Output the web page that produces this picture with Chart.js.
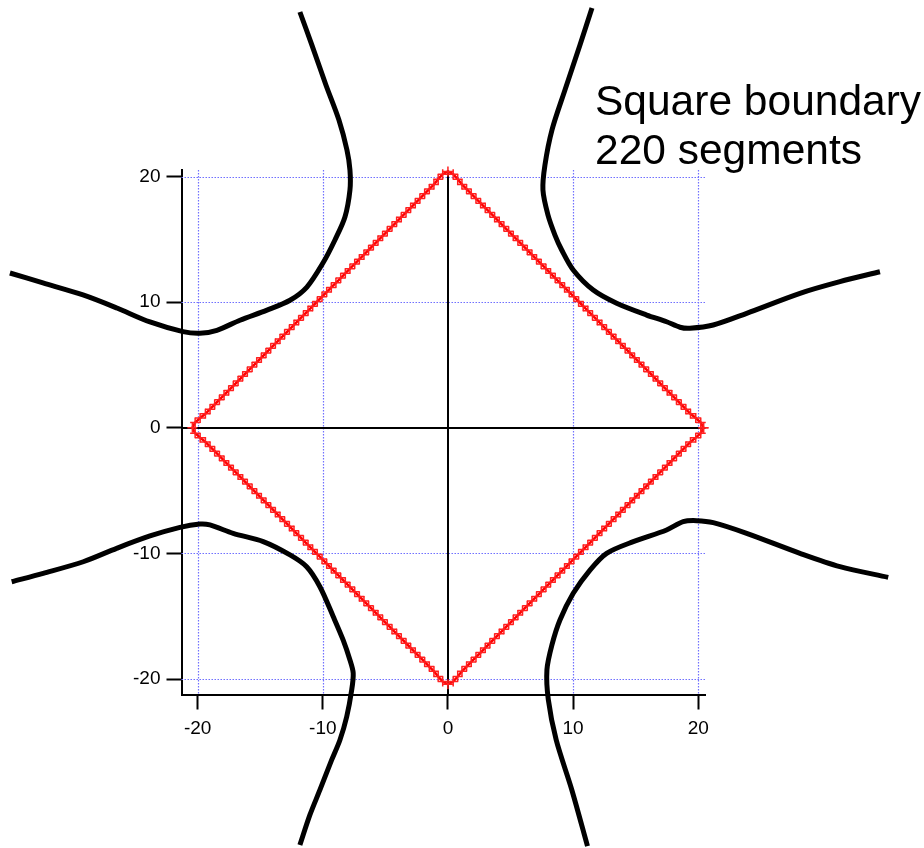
<!DOCTYPE html>
<html>
<head>
<meta charset="utf-8">
<script src="https://cdn.jsdelivr.net/npm/chart.js@4.4.1/dist/chart.umd.min.js"></script>
<style>
  body { margin: 0; background: #fff; }
  canvas { display: block; }
</style>
</head>
<body>
<canvas id="squareChart" width="924" height="848"></canvas>
<script>
// ticks on both axes, dotted grid at the non-zero ones
const tickValues = [-20, -10, 0, 10, 20];
const gridValues = [-20, -10, 10, 20];

// one quarter of the boundary: right corner up to top corner (56 points)
const quarterX = [20.42, 20.20, 19.80, 19.38, 19.01, 18.64, 18.26, 17.89, 17.52, 17.15,
  16.77, 16.40, 16.03, 15.65, 15.28, 14.91, 14.54, 14.16, 13.79, 13.42,
  13.05, 12.67, 12.30, 11.93, 11.55, 11.18, 10.81, 10.44, 10.06, 9.69,
  9.32, 8.95, 8.57, 8.20, 7.83, 7.45, 7.08, 6.71, 6.34, 5.96,
  5.59, 5.22, 4.85, 4.47, 4.10, 3.73, 3.35, 2.98, 2.61, 2.24,
  1.86, 1.49, 1.12, 0.78, 0.42, 0.00];
const quarterY = [0.00, 0.42, 0.78, 1.12, 1.49, 1.86, 2.24, 2.61, 2.98, 3.35,
  3.73, 4.10, 4.47, 4.85, 5.22, 5.59, 5.96, 6.34, 6.71, 7.08,
  7.45, 7.83, 8.20, 8.57, 8.95, 9.32, 9.69, 10.06, 10.44, 10.81,
  11.18, 11.55, 11.93, 12.30, 12.67, 13.05, 13.42, 13.79, 14.16, 14.54,
  14.91, 15.28, 15.65, 16.03, 16.40, 16.77, 17.15, 17.52, 17.89, 18.26,
  18.64, 19.01, 19.38, 19.80, 20.20, 20.42];

// the four outer curves
const upperLeftX = [-11.83, -10.87, -9.75, -8.71, -8.07, -7.83, -7.83, -8.23, -9.03, -9.99, -11.27,
  -12.62, -14.46, -16.62, -18.46, -19.82, -21.17, -23.81, -26.45, -29.16, -32.36, -35.00];
const upperLeftY = [33.11, 30.48, 27.30, 24.51, 22.12, 20.53, 18.94, 16.79, 14.96, 13.12, 11.21,
  10.16, 9.37, 8.57, 7.77, 7.53, 7.66, 8.43, 9.54, 10.58, 11.54, 12.33];

const upperRightX = [11.51, 10.55, 9.35, 8.31, 7.75, 7.59, 7.99, 8.55, 9.09, 10.01, 11.61,
  13.48, 15.88, 17.47, 18.54, 19.34, 21.20, 23.87, 28.13, 31.32, 34.52];
const upperRightY = [33.43, 30.48, 26.90, 23.71, 20.92, 18.94, 16.95, 15.35, 14.16, 12.57, 10.97,
  9.92, 8.98, 8.45, 8.01, 7.93, 8.19, 9.12, 10.71, 11.64, 12.43];

const lowerLeftX = [-34.86, -32.34, -29.14, -26.47, -23.81, -21.41, -19.82, -19.02, -17.16, -14.76,
  -12.62, -11.29, -10.23, -9.16, -8.37, -7.83, -7.57, -7.69, -8.09, -8.63, -9.29, -10.23, -11.03, -11.83];
const lowerLeftY = [-12.25, -11.58, -10.66, -9.59, -8.61, -7.92, -7.66, -7.73, -8.40, -9.06,
  -10.12, -11.06, -12.65, -15.04, -16.90, -18.48, -19.52, -20.87, -23.00, -24.85, -26.44, -28.83, -30.82, -33.21];

const lowerRightX = [11.15, 9.90, 8.65, 8.02, 7.91, 8.31, 8.95, 10.01, 11.35, 12.68,
  14.81, 17.47, 18.80, 19.87, 21.20, 23.87, 28.13, 31.32, 35.18];
const lowerRightY = [-33.30, -28.83, -24.85, -21.64, -19.26, -17.28, -15.30, -13.17, -11.32, -9.99,
  -9.06, -8.13, -7.47, -7.39, -7.55, -8.40, -9.99, -11.05, -11.90];

const labelLines = ['Square boundary', '220 segments'];

const fontFamily = '"Liberation Sans", Arial, Helvetica, sans-serif';

function toPoints(xs, ys) {
  return xs.map((x, i) => ({ x: x, y: ys[i] }));
}

// walk the quarter around all four sides, closing the loop
function boundaryPoints() {
  const pts = [];
  const n = quarterX.length - 1;
  for (let k = 0; k < n; k++) pts.push({ x: quarterX[k], y: quarterY[k] });
  for (let k = 0; k < n; k++) pts.push({ x: -quarterY[k], y: quarterX[k] });
  for (let k = 0; k < n; k++) pts.push({ x: -quarterX[k], y: -quarterY[k] });
  for (let k = 0; k < n; k++) pts.push({ x: quarterY[k], y: -quarterX[k] });
  pts.push(pts[0]);
  return pts;
}

function curveSet(xs, ys) {
  return {
    data: toPoints(xs, ys),
    showLine: true,
    borderColor: '#000',
    borderWidth: 5,
    borderJoinStyle: 'round',
    pointRadius: 0,
    tension: 0.3,
    clip: false
  };
}

// dotted grid plus the solid zero lines, under the data
const gridPlugin = {
  id: 'gridPlugin',
  beforeDatasetsDraw(chart) {
    const { ctx, chartArea, scales } = chart;
    const xs = scales.x, ys = scales.y;
    ctx.save();
    ctx.strokeStyle = '#7070ff';
    ctx.lineWidth = 1.2;
    ctx.setLineDash([1.5, 1.5]);
    gridValues.forEach(v => {
      const px = Math.round(xs.getPixelForValue(v)) + 0.5;
      ctx.beginPath();
      ctx.moveTo(px, chartArea.top);
      ctx.lineTo(px, chartArea.bottom);
      ctx.stroke();
      const py = Math.round(ys.getPixelForValue(v)) + 0.5;
      ctx.beginPath();
      ctx.moveTo(chartArea.left, py);
      ctx.lineTo(chartArea.right, py);
      ctx.stroke();
    });
    ctx.setLineDash([]);
    ctx.strokeStyle = '#000';
    ctx.lineWidth = 2;
    const x0 = Math.round(xs.getPixelForValue(0));
    const y0 = Math.round(ys.getPixelForValue(0));
    ctx.beginPath();
    ctx.moveTo(x0, chartArea.top);
    ctx.lineTo(x0, chartArea.bottom);
    ctx.moveTo(chartArea.left, y0);
    ctx.lineTo(chartArea.right, y0);
    ctx.stroke();
    ctx.restore();
  },
  afterDraw(chart) {
    const ctx = chart.ctx;
    ctx.save();
    ctx.fillStyle = '#000';
    ctx.font = '42.5px ' + fontFamily;
    ctx.textBaseline = 'alphabetic';
    ctx.fillText(labelLines[0], 595, 115);
    ctx.fillText(labelLines[1], 595, 164);
    ctx.restore();
  }
};

function fixedTicks(scale) {
  scale.ticks = tickValues.map(v => ({ value: v }));
}

const axisGrid = {
  drawOnChartArea: false,
  drawTicks: true,
  tickLength: 15,
  tickWidth: 2,
  tickColor: '#000',
  color: '#000'
};
const axisBorder = { display: true, color: '#000', width: 2 };
const axisTicks = {
  color: '#000',
  font: { family: fontFamily, size: 19 },
  callback: v => String(v)
};

document.addEventListener("DOMContentLoaded", function () {
  const ctx = document.getElementById('squareChart').getContext('2d');
  new Chart(ctx, {
    type: 'scatter',
    data: {
      datasets: [
        {
          data: boundaryPoints(),
          showLine: true,
          borderColor: '#ff0000',
          borderWidth: 2.5,
          pointStyle: 'cross',
          pointRadius: 5,
          pointBorderWidth: 1.5,
          pointBorderColor: '#ff2020',
          tension: 0,
          clip: false
        },
        curveSet(upperLeftX, upperLeftY),
        curveSet(upperRightX, upperRightY),
        curveSet(lowerLeftX, lowerLeftY),
        curveSet(lowerRightX, lowerRightY)
      ]
    },
    options: {
      responsive: false,
      animation: false,
      layout: { padding: { left: 0, top: 170, right: 218.5, bottom: 0 } },
      plugins: {
        legend: { display: false },
        tooltip: { enabled: false }
      },
      scales: {
        x: {
          type: 'linear',
          position: 'bottom',
          min: -21.29,
          max: 20.58,
          afterBuildTicks: fixedTicks,
          afterFit: scale => { scale.height = 153.5; },
          grid: axisGrid,
          border: axisBorder,
          ticks: Object.assign({ padding: 8, maxRotation: 0 }, axisTicks)
        },
        y: {
          type: 'linear',
          position: 'left',
          min: -21.23,
          max: 20.53,
          afterBuildTicks: fixedTicks,
          afterFit: scale => { scale.width = 181.5; },
          grid: axisGrid,
          border: axisBorder,
          ticks: Object.assign({ padding: 6 }, axisTicks)
        }
      }
    },
    plugins: [gridPlugin]
  });
});
</script>
</body>
</html>
